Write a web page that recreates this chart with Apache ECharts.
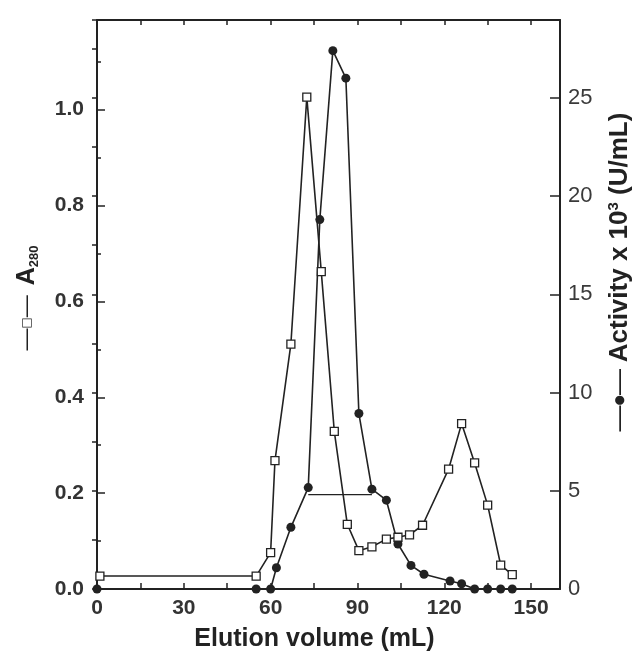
<!DOCTYPE html>
<html>
<head>
<meta charset="utf-8">
<script src="https://cdn.jsdelivr.net/npm/echarts@6/dist/echarts.min.js"></script>
<style>
  html, body { margin: 0; padding: 0; background: #fff; }
  #chart { width: 632px; height: 657px; }
</style>
</head>
<body>
<div id="chart"></div>
<script>
// ---- data ----
const elutionA = [1, 55, 60, 61.5, 67, 72.5, 77.5, 82, 86.5, 90.5, 95, 100, 104, 108, 112.5, 121.5, 126, 130.5, 135, 139.5, 143.5];
const a280 = [0.027, 0.027, 0.076, 0.268, 0.511, 1.026, 0.662, 0.329, 0.135, 0.080, 0.088, 0.104, 0.108, 0.113, 0.133, 0.250, 0.345, 0.263, 0.175, 0.050, 0.030];
const elutionB = [0, 55, 60, 62, 67, 73, 77, 81.5, 86, 90.5, 95, 100, 104, 108.5, 113, 122, 126, 130.5, 135, 139.5, 143.5];
const activity = [0, 0, 0, 1.08, 3.14, 5.16, 18.8, 27.4, 26.0, 8.93, 5.08, 4.52, 2.29, 1.2, 0.75, 0.41, 0.27, 0, 0, 0, 0];
const poolX = [73, 95];
const poolY = [4.8, 4.8];
const xTicks = [0, 30, 60, 90, 120, 150];
const leftTicks = ['0.0', '0.2', '0.4', '0.6', '0.8', '1.0'];
const rightTicks = [0, 5, 10, 15, 20, 25];

const INK = '#222';
const FONT = '"Liberation Sans", Arial, sans-serif';

function pairs(xs, ys) { return xs.map((x, i) => [x, ys[i]]); }
function pick(list, v) {
  for (const t of list) { if (Math.abs(parseFloat(t) - v) < 1e-6) return String(t); }
  return '';
}

const chart = echarts.init(document.getElementById('chart'), null, { renderer: 'canvas' });

const grid = { left: 97, right: 72, top: 20, bottom: 65, containLabel: false };

const option = {
  backgroundColor: '#fff',
  animation: false,
  grid: grid,
  xAxis: [
    {
      type: 'value', position: 'bottom', min: 0, max: 160, interval: 15,
      name: 'Elution volume (mL)', nameLocation: 'middle', nameGap: 38,
      nameTextStyle: { fontFamily: FONT, fontSize: 25, fontWeight: 'bold', color: INK, padding: [0, 28, 0, 0] },
      axisLine: { show: true, onZero: false, lineStyle: { color: INK, width: 2 } },
      axisTick: { show: true, inside: true, length: 6, lineStyle: { color: INK, width: 1.5 } },
      axisLabel: { show: true, margin: 9, fontFamily: FONT, fontSize: 21, fontWeight: 'bold', color: '#333',
        formatter: v => pick(xTicks, v) },
      splitLine: { show: false }
    },
    {
      type: 'value', position: 'top', min: 0, max: 160, interval: 15,
      axisLine: { show: true, onZero: false, lineStyle: { color: INK, width: 2 } },
      axisTick: { show: true, inside: true, length: 5, lineStyle: { color: INK, width: 1.5 } },
      axisLabel: { show: false },
      splitLine: { show: false }
    }
  ],
  yAxis: [
    {
      type: 'value', position: 'left', min: 0, max: 1.187, interval: 0.2,
      axisLine: { show: true, onZero: false, lineStyle: { color: INK, width: 2 } },
      axisTick: { show: true, inside: true, length: 8, lineStyle: { color: INK, width: 1.5 } },
      axisLabel: { show: true, margin: 13, fontFamily: FONT, fontSize: 21, fontWeight: 'bold', color: '#333',
        formatter: v => pick(leftTicks, v) },
      splitLine: { show: false }
    },
    {
      type: 'value', position: 'right', min: 0, max: 28.96, interval: 5,
      axisLine: { show: true, onZero: false, lineStyle: { color: INK, width: 2 } },
      axisTick: { show: true, inside: true, length: 10, lineStyle: { color: INK, width: 1.5 } },
      axisLabel: { show: true, margin: 8, fontFamily: FONT, fontSize: 22, fontWeight: 'normal', color: '#3a3a3a',
        formatter: v => pick(rightTicks, v) },
      splitLine: { show: false }
    },
    {
      type: 'value', position: 'left', min: 0, max: 1.187, interval: 0.1,
      axisLine: { show: false },
      axisTick: { show: true, inside: true, length: 4, lineStyle: { color: INK, width: 1.5 } },
      axisLabel: { show: false },
      splitLine: { show: false }
    },
    {
      type: 'value', position: 'right', min: 0, max: 28.96, interval: 2.5,
      axisLine: { show: false },
      axisTick: { show: true, inside: true, length: 5, lineStyle: { color: INK, width: 1.5 } },
      axisLabel: { show: false },
      splitLine: { show: false }
    }
  ],
  series: [
    {
      name: 'Pool', type: 'line', xAxisIndex: 0, yAxisIndex: 1,
      data: pairs(poolX, poolY), showSymbol: false, symbol: 'none',
      lineStyle: { color: INK, width: 1.3 }, z: 2
    },
    {
      name: 'Activity', type: 'line', xAxisIndex: 0, yAxisIndex: 1,
      data: pairs(elutionB, activity),
      symbol: 'circle', symbolSize: 9,
      itemStyle: { color: INK, borderColor: INK, borderWidth: 0 },
      lineStyle: { color: INK, width: 1.6 }, z: 3
    },
    {
      name: 'A280', type: 'line', xAxisIndex: 0, yAxisIndex: 0,
      data: pairs(elutionA, a280),
      symbol: 'rect', symbolSize: 8,
      itemStyle: { color: '#fff', borderColor: INK, borderWidth: 1.3 },
      lineStyle: { color: INK, width: 1.6 }, z: 4
    }
  ],
  graphic: [
    {
      type: 'text', x: 27, y: 298, rotation: Math.PI / 2,
      style: {
        text: '{d|—}{s|□}{d|—}   {b|A}{sub|280}',
        align: 'center', verticalAlign: 'middle',
        rich: {
          d: { fontFamily: FONT, fontSize: 22, fill: INK, verticalAlign: 'middle', lineHeight: 28 },
          s: { fontFamily: '"DejaVu Sans", ' + FONT, fontSize: 12, fill: INK, verticalAlign: 'middle', lineHeight: 28 },
          b: { fontFamily: FONT, fontSize: 25, fontWeight: 'bold', fill: INK, lineHeight: 28 },
          sub: { fontFamily: FONT, fontSize: 13, fontWeight: 'bold', fill: INK, verticalAlign: 'bottom', lineHeight: 28 }
        }
      }
    },
    {
      type: 'text', x: 620, y: 272, rotation: Math.PI / 2,
      style: {
        text: '{d|—}{s|●}{d|—}  {b|Activity x 10}{sup|3}{b| (U/mL)}',
        align: 'center', verticalAlign: 'middle',
        rich: {
          d: { fontFamily: FONT, fontSize: 26, fill: INK, verticalAlign: 'middle', lineHeight: 28 },
          s: { fontFamily: '"DejaVu Sans", ' + FONT, fontSize: 12, fill: INK, verticalAlign: 'middle', lineHeight: 28 },
          b: { fontFamily: FONT, fontSize: 26, fontWeight: 'bold', fill: INK, lineHeight: 28 },
          sup: { fontFamily: FONT, fontSize: 15, fontWeight: 'bold', fill: INK, verticalAlign: 'top', lineHeight: 28 }
        }
      }
    }
  ]
};

chart.setOption(option);
</script>
</body>
</html>
